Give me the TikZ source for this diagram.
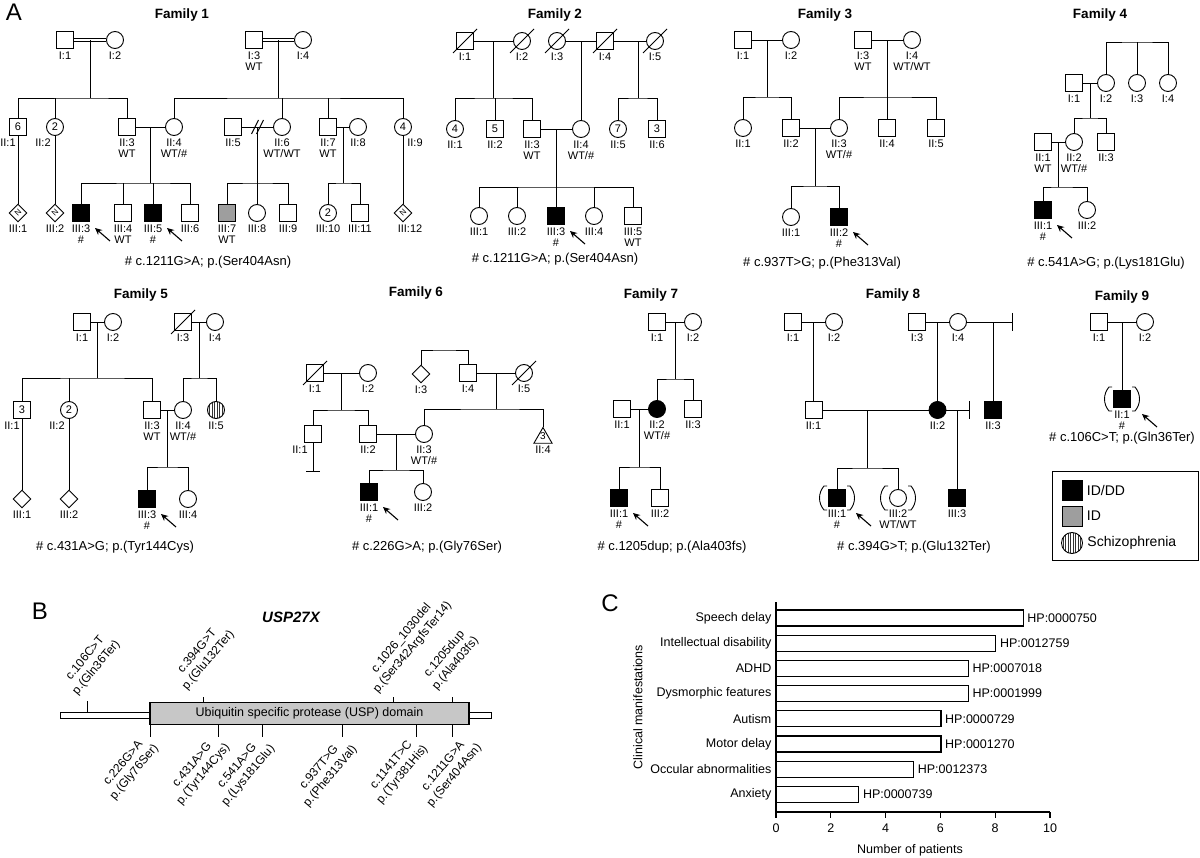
\documentclass[tikz,border=0pt]{standalone}
\usepackage{fontspec}
\setmainfont{Liberation Sans}
\usetikzlibrary{arrows.meta, positioning, calc, shapes.geometric}

\newcommand{\fs}[2]{\fontsize{#1}{#2}\selectfont}
% pedigree helpers
\newcommand{\deceased}[1]{\draw[ped] ([shift={(-12,12)}]#1.center) -- ([shift={(12,-12)}]#1.center);}
\newcommand{\adopted}[1]{%
  \draw[ped] ([shift={(-10,-12)}]#1.center) -- ([shift={(-13,-12)}]#1.center) .. controls ([shift={(-19,-5)}]#1.center) and ([shift={(-19,5)}]#1.center) .. ([shift={(-13,12)}]#1.center) -- ([shift={(-10,12)}]#1.center);
  \draw[ped] ([shift={(10,-12)}]#1.center) -- ([shift={(13,-12)}]#1.center) .. controls ([shift={(19,-5)}]#1.center) and ([shift={(19,5)}]#1.center) .. ([shift={(13,12)}]#1.center) -- ([shift={(10,12)}]#1.center);}
\newcommand{\proband}[2][0]{\draw[pb] ([shift={(#1+29,28)}]#2.center) -- ([shift={(#1+14,15)}]#2.center);}

\tikzset{
  ped/.style={line width=0.9pt},
  ind/.style={draw, ped, inner sep=0pt, font=\fs{11}{12}},
  male/.style={ind, rectangle, minimum size=17pt},
  female/.style={ind, circle, minimum size=17pt},
  unkn/.style={ind, diamond, minimum size=18pt, font=\fs{8}{9}},
  aff/.style={fill=black},
  idonly/.style={fill=black!38},
  schizo/.style={path picture={\foreach \k in {-9,-6.5,...,9}{\draw[line width=0.9pt, black!80] ([xshift=\k]path picture bounding box.north) -- ([xshift=\k]path picture bounding box.south);}}},
  lab/.style={font=\fs{11}{11.5}, inner sep=0pt, align=center, label distance=2.5pt},
  famnote/.style={font=\fs{13}{15}},
  fam/.style={font=\fs{13.5}{15}\bfseries},
  pb/.style={line width=1.1pt, -{Stealth[length=7pt, width=6.5pt]}},
  mut/.style={font=\fs{12}{14.5}, align=center, inner sep=0pt, rotate=50},
  axlab/.style={font=\fs{12.5}{14}, inner sep=1.5pt},
}

\begin{document}
\begin{tikzpicture}[x=1pt, y=-1pt]
\fill[white] (0,0) rectangle (1200,858);
\useasboundingbox (0,0) rectangle (1200,858);

\node[font=\fs{24}{26}] (pA) at (14,12) {A};
\node[font=\fs{24}{26}] (pB) at (40,611) {B};
\node[font=\fs{24}{26}] (pC) at (610,603) {C};

% ---------------- Family 1
\node[fam] (t1) at (182,15) {Family 1};
\node[male, label={[lab]below:{I:1}}] (f1i1) at (65,40) {};
\node[female, label={[lab]below:{I:2}}] (f1i2) at (115,40) {};
\node[male, label={[lab]below:{I:3\\WT}}] (f1i3) at (254,40) {};
\node[female, label={[lab]below:{I:4}}] (f1i4) at (303,40) {};
\node[male, label={[lab,xshift=-10pt]below:{II:1}}] (f1ii1) at (18,127) {6};
\node[female, label={[lab,xshift=-12pt]below:{II:2}}] (f1ii2) at (55,127) {2};
\node[male, label={[lab]below:{II:3\\WT}}] (f1ii3) at (127,127) {};
\node[female, label={[lab]below:{II:4\\WT/\#}}] (f1ii4) at (174,127) {};
\node[male, label={[lab]below:{II:5}}] (f1ii5) at (233,127) {};
\node[female, label={[lab]below:{II:6\\WT/WT}}] (f1ii6) at (282,127) {};
\node[male, label={[lab]below:{II:7\\WT}}] (f1ii7) at (328,127) {};
\node[female, label={[lab]below:{II:8}}] (f1ii8) at (358,127) {};
\node[female, label={[lab,xshift=12pt]below:{II:9}}] (f1ii9) at (403,127) {4};
\node[unkn, label={[lab]below:{III:1}}] (f1iii1) at (18,213) {\rotatebox{45}{N}};
\node[unkn, label={[lab]below:{III:2}}] (f1iii2) at (55,213) {\rotatebox{45}{N}};
\node[male, aff, label={[lab]below:{III:3\\\#}}] (f1iii3) at (81,213) {};
\node[male, label={[lab]below:{III:4\\WT}}] (f1iii4) at (123,213) {};
\node[male, aff, label={[lab]below:{III:5\\\#}}] (f1iii5) at (153,213) {};
\node[male, label={[lab]below:{III:6}}] (f1iii6) at (190,213) {};
\node[male, idonly, label={[lab]below:{III:7\\WT}}] (f1iii7) at (227,213) {};
\node[female, label={[lab]below:{III:8}}] (f1iii8) at (257,213) {};
\node[male, label={[lab]below:{III:9}}] (f1iii9) at (288,213) {};
\node[female, label={[lab]below:{III:10}}] (f1iii10) at (328,213) {2};
\node[male, label={[lab]below:{III:11}}] (f1iii11) at (360,213) {};
\node[unkn, label={[lab,xshift=7pt]below:{III:12}}] (f1iii12) at (403,213) {\rotatebox{45}{N}};

\draw[ped, double, double distance=2.6pt] (f1i1) -- (f1i2);
\draw[ped, double, double distance=2.6pt] (f1i3) -- (f1i4);
\coordinate (f1s1) at ($(f1i1)!.5!(f1i2)+(0,58)$);
\coordinate (f1s2) at ($(f1i3)!.5!(f1i4)+(0,58)$);
\draw[ped] (f1s1) -- (f1s1 |- f1i1);
\draw[ped] (f1s2) -- (f1s2 |- f1i3);
\draw[ped] (f1ii1) |- (f1s1) -| (f1ii3);
\draw[ped] (f1ii2) -- (f1ii2 |- f1s1);
\draw[ped] (f1ii4) |- (f1s2) -| (f1ii9);
\draw[ped] (f1ii6) -- (f1ii6 |- f1s2);
\draw[ped] (f1ii7) -- (f1ii7 |- f1s2);
\draw[ped] (f1ii3) -- (f1ii4);
\draw[ped] (f1ii5) -- (f1ii6);
\draw[ped] (f1ii7) -- (f1ii8);
\coordinate (f1dv) at ($(f1ii5)!.5!(f1ii6)$);
\draw[ped] ([shift={(-6,7)}]f1dv) -- ([shift={(1,-7)}]f1dv);
\draw[ped] ([shift={(-1,7)}]f1dv) -- ([shift={(6,-7)}]f1dv);
\coordinate (f1s3) at ($(f1ii3)!.5!(f1ii4)+(0,56)$);
\coordinate (f1s4) at ($(f1ii5)!.5!(f1ii6)+(0,56)$);
\coordinate (f1s5) at ($(f1ii7)!.5!(f1ii8)+(0,56)$);
\draw[ped] (f1s3) -- (f1s3 |- f1ii3);
\draw[ped] (f1s4) -- (f1s4 |- f1ii5);
\draw[ped] (f1s5) -- (f1s5 |- f1ii7);
\draw[ped] (f1iii3) |- (f1s3) -| (f1iii6);
\draw[ped] (f1iii4) -- (f1iii4 |- f1s3);
\draw[ped] (f1iii5) -- (f1iii5 |- f1s3);
\draw[ped] (f1iii7) |- (f1s4) -| (f1iii9);
\draw[ped] (f1iii8) -- (f1iii8 |- f1s4);
\draw[ped] (f1iii10) |- (f1s5) -| (f1iii11);
\draw[ped] (f1ii1) -- (f1iii1);
\draw[ped] (f1ii2) -- (f1iii2);
\draw[ped] (f1ii9) -- (f1iii12);
\proband{f1iii3}
\proband{f1iii5}
\node[famnote] (c1) at (208,262) {\# c.1211G>A; p.(Ser404Asn)};

% ---------------- Family 2
\node[fam] (t2) at (555,15) {Family 2};
\node[male, label={[lab]below:{I:1}}] (f2i1) at (465,41) {};
\node[female, label={[lab]below:{I:2}}] (f2i2) at (522,41) {};
\node[female, label={[lab]below:{I:3}}] (f2i3) at (557,41) {};
\node[male, label={[lab]below:{I:4}}] (f2i4) at (605,41) {};
\node[female, label={[lab]below:{I:5}}] (f2i5) at (655,41) {};
\node[female, label={[lab]below:{II:1}}] (f2ii1) at (455,129) {4};
\node[male, label={[lab]below:{II:2}}] (f2ii2) at (495,129) {5};
\node[male, label={[lab]below:{II:3\\WT}}] (f2ii3) at (532,129) {};
\node[female, label={[lab]below:{II:4\\WT/\#}}] (f2ii4) at (581,129) {};
\node[female, label={[lab]below:{II:5}}] (f2ii5) at (618,129) {7};
\node[male, label={[lab]below:{II:6}}] (f2ii6) at (657,129) {3};
\node[female, label={[lab]below:{III:1}}] (f2iii1) at (479,216) {};
\node[female, label={[lab]below:{III:2}}] (f2iii2) at (517,216) {};
\node[male, aff, label={[lab]below:{III:3\\\#}}] (f2iii3) at (556,216) {};
\node[female, label={[lab]below:{III:4}}] (f2iii4) at (594,216) {};
\node[male, label={[lab]below:{III:5\\WT}}] (f2iii5) at (633,216) {};

\draw[ped] (f2i1) -- (f2i2);
\draw[ped] (f2i3) -- (f2i4) -- (f2i5);
\coordinate (f2s1) at ($(f2i1)!.5!(f2i2)+(0,57)$);
\coordinate (f2s3) at (638,98);
\draw[ped] (f2s1) -- (f2s1 |- f2i1);
\draw[ped] (f2s3) -- (f2s3 |- f2i4);
\draw[ped] (f2ii4) -- (f2ii4 |- f2i3);
\draw[ped] (f2ii1) |- (f2s1) -| (f2ii3);
\draw[ped] (f2ii2) -- (f2ii2 |- f2s1);
\draw[ped] (f2ii5) |- (f2s3) -| (f2ii6);
\draw[ped] (f2ii3) -- (f2ii4);
\coordinate (f2s2) at ($(f2ii3)!.5!(f2ii4)+(0,58)$);
\draw[ped] (f2s2) -- (f2s2 |- f2ii3);
\draw[ped] (f2iii1) |- (f2s2) -| (f2iii5);
\draw[ped] (f2iii2) -- (f2iii2 |- f2s2);
\draw[ped] (f2iii3) -- (f2iii3 |- f2s2);
\draw[ped] (f2iii4) -- (f2iii4 |- f2s2);
\deceased{f2i1}
\deceased{f2i2}
\deceased{f2i3}
\deceased{f2i4}
\deceased{f2i5}
\proband{f2iii3}
\node[famnote] (c2) at (555,259) {\# c.1211G>A; p.(Ser404Asn)};

% ---------------- Family 3
\node[fam] (t3) at (825,15) {Family 3};
\node[male, label={[lab]below:{I:1}}] (f3i1) at (743,40) {};
\node[female, label={[lab]below:{I:2}}] (f3i2) at (791,40) {};
\node[male, label={[lab]below:{I:3\\WT}}] (f3i3) at (863,40) {};
\node[female, label={[lab]below:{I:4\\WT/WT}}] (f3i4) at (912,40) {};
\node[female, label={[lab]below:{II:1}}] (f3ii1) at (743,128) {};
\node[male, label={[lab]below:{II:2}}] (f3ii2) at (791,128) {};
\node[female, label={[lab]below:{II:3\\WT/\#}}] (f3ii3) at (839,128) {};
\node[male, label={[lab]below:{II:4}}] (f3ii4) at (887,128) {};
\node[male, label={[lab]below:{II:5}}] (f3ii5) at (936,128) {};
\node[female, label={[lab]below:{III:1}}] (f3iii1) at (791,217) {};
\node[male, aff, label={[lab]below:{III:2\\\#}}] (f3iii2) at (839,217) {};

\draw[ped] (f3i1) -- (f3i2);
\draw[ped] (f3i3) -- (f3i4);
\draw[ped] (f3ii2) -- (f3ii3);
\coordinate (f3s1) at ($(f3i1)!.5!(f3i2)+(0,57)$);
\coordinate (f3s2) at ($(f3i3)!.5!(f3i4)+(0,57)$);
\coordinate (f3s3) at ($(f3ii2)!.5!(f3ii3)+(0,58)$);
\draw[ped] (f3s1) -- (f3s1 |- f3i1);
\draw[ped] (f3s2) -- (f3s2 |- f3i3);
\draw[ped] (f3s3) -- (f3s3 |- f3ii2);
\draw[ped] (f3ii1) |- (f3s1) -| (f3ii2);
\draw[ped] (f3ii3) |- (f3s2) -| (f3ii5);
\draw[ped] (f3ii4) -- (f3ii4 |- f3s2);
\draw[ped] (f3iii1) |- (f3s3) -| (f3iii2);
\proband{f3iii2}
\node[famnote] (c3) at (822,263) {\# c.937T>G; p.(Phe313Val)};

% ---------------- Family 4
\node[fam] (t4) at (1100,15) {Family 4};
\node[male, label={[lab]below:{I:1}}] (f4i1) at (1074,83) {};
\node[female, label={[lab]below:{I:2}}] (f4i2) at (1106,83) {};
\node[female, label={[lab]below:{I:3}}] (f4i3) at (1137,83) {};
\node[female, label={[lab]below:{I:4}}] (f4i4) at (1168,83) {};
\node[male, label={[lab]below:{II:1\\WT}}] (f4ii1) at (1043,142) {};
\node[female, label={[lab]below:{II:2\\WT/\#}}] (f4ii2) at (1074,142) {};
\node[male, label={[lab]below:{II:3}}] (f4ii3) at (1106,142) {};
\node[male, aff, label={[lab]below:{III:1\\\#}}] (f4iii1) at (1043,210) {};
\node[female, label={[lab]below:{III:2}}] (f4iii2) at (1087,210) {};

\coordinate (f4s0) at (1137,42);
\draw[ped] (f4i2) |- (f4s0) -| (f4i4);
\draw[ped] (f4i3) -- (f4s0);
\draw[ped] (f4i1) -- (f4i2);
\draw[ped] (f4ii1) -- (f4ii2);
\coordinate (f4s1) at ($(f4i1)!.5!(f4i2)+(0,35)$);
\coordinate (f4s2) at ($(f4ii1)!.5!(f4ii2)+(0,45)$);
\draw[ped] (f4s1) -- (f4s1 |- f4i1);
\draw[ped] (f4s2) -- (f4s2 |- f4ii1);
\draw[ped] (f4ii2) |- (f4s1) -| (f4ii3);
\draw[ped] (f4iii1) |- (f4s2) -| (f4iii2);
\proband{f4iii1}
\node[famnote] (c4) at (1106,263) {\# c.541A>G; p.(Lys181Glu)};

% ---------------- Family 5
\node[fam] (t5) at (141,295) {Family 5};
\node[male, label={[lab]below:{I:1}}] (f5i1) at (82,322) {};
\node[female, label={[lab]below:{I:2}}] (f5i2) at (113,322) {};
\node[male, label={[lab]below:{I:3}}] (f5i3) at (183,322) {};
\node[female, label={[lab]below:{I:4}}] (f5i4) at (215,322) {};
\node[male, label={[lab,xshift=-10pt]below:{II:1}}] (f5ii1) at (22,410) {3};
\node[female, label={[lab,xshift=-12pt]below:{II:2}}] (f5ii2) at (69,410) {2};
\node[male, label={[lab]below:{II:3\\WT}}] (f5ii3) at (152,410) {};
\node[female, label={[lab]below:{II:4\\WT/\#}}] (f5ii4) at (183,410) {};
\node[female, schizo, label={[lab]below:{II:5}}] (f5ii5) at (216,410) {};
\node[unkn, label={[lab]below:{III:1}}] (f5iii1) at (22,499) {};
\node[unkn, label={[lab]below:{III:2}}] (f5iii2) at (69,499) {};
\node[male, aff, label={[lab]below:{III:3\\\#}}] (f5iii3) at (147,499) {};
\node[female, label={[lab]below:{III:4}}] (f5iii4) at (188,499) {};

\draw[ped] (f5i1) -- (f5i2);
\draw[ped] (f5i3) -- (f5i4);
\draw[ped] (f5ii3) -- (f5ii4);
\coordinate (f5s1) at ($(f5i1)!.5!(f5i2)+(0,56)$);
\coordinate (f5s2) at ($(f5i3)!.5!(f5i4)+(0,56)$);
\coordinate (f5s3) at ($(f5ii3)!.5!(f5ii4)+(0,57)$);
\draw[ped] (f5s1) -- (f5s1 |- f5i1);
\draw[ped] (f5s2) -- (f5s2 |- f5i3);
\draw[ped] (f5s3) -- (f5s3 |- f5ii3);
\draw[ped] (f5ii1) |- (f5s1) -| (f5ii3);
\draw[ped] (f5ii2) -- (f5ii2 |- f5s1);
\draw[ped] (f5ii4) |- (f5s2) -| (f5ii5);
\draw[ped] (f5iii3) |- (f5s3) -| (f5iii4);
\draw[ped] (f5ii1) -- (f5iii1);
\draw[ped] (f5ii2) -- (f5iii2);
\deceased{f5i3}
\proband{f5iii3}
\node[famnote] (c5) at (115,547) {\# c.431A>G; p.(Tyr144Cys)};

% ---------------- Family 6
\node[fam] (t6) at (416,293) {Family 6};
\node[male, label={[lab]below:{I:1}}] (f6i1) at (315,373) {};
\node[female, label={[lab]below:{I:2}}] (f6i2) at (368,373) {};
\node[unkn, label={[lab]below:{I:3}}] (f6i3) at (421,374) {};
\node[male, label={[lab]below:{I:4}}] (f6i4) at (468,373) {};
\node[female, label={[lab]below:{I:5}}] (f6i5) at (524,373) {};
\node[male, label={[lab,xshift=-13pt]below:{II:1}}] (f6ii1) at (313,434) {};
\node[male, label={[lab]below:{II:2}}] (f6ii2) at (368,434) {};
\node[female, label={[lab]below:{II:3\\WT/\#}}] (f6ii3) at (424,434) {};
\node[ind, regular polygon, regular polygon sides=3, minimum size=21pt,
      label={[font=\fs{10}{11}, inner sep=0pt, yshift=1.5pt]center:3},
      label={[lab]below:{II:4}}] (f6ii4) at (543,438) {};
\node[male, aff, label={[lab]below:{III:1\\\#}}] (f6iii1) at (369,492) {};
\node[female, label={[lab]below:{III:2}}] (f6iii2) at (423,492) {};

\coordinate (f6s0) at (444,350);
\draw[ped] (f6i3) |- (f6s0) -| (f6i4);
\draw[ped] (f6i1) -- (f6i2);
\draw[ped] (f6i4) -- (f6i5);
\draw[ped] (f6ii2) -- (f6ii3);
\coordinate (f6s1) at ($(f6i1)!.5!(f6i2)+(0,37)$);
\coordinate (f6s2) at ($(f6i4)!.5!(f6i5)+(0,36)$);
\coordinate (f6s3) at ($(f6ii2)!.5!(f6ii3)+(0,36)$);
\draw[ped] (f6s1) -- (f6s1 |- f6i1);
\draw[ped] (f6s2) -- (f6s2 |- f6i4);
\draw[ped] (f6s3) -- (f6s3 |- f6ii2);
\draw[ped] (f6ii1) |- (f6s1) -| (f6ii2);
\draw[ped] (f6ii3) |- (f6s2) -| (f6ii4);
\draw[ped] (f6iii1) |- (f6s3) -| (f6iii2);
\coordinate (f6nc) at (313,471);
\draw[ped] (f6ii1) -- (f6nc);
\draw[ped] ([xshift=-7pt]f6nc) -- ([xshift=7pt]f6nc);
\deceased{f6i1}
\deceased{f6i5}
\proband{f6iii1}
\node[famnote] (c6) at (427,547) {\# c.226G>A; p.(Gly76Ser)};

% ---------------- Family 7
\node[fam] (t7) at (651,295) {Family 7};
\node[male, label={[lab]below:{I:1}}] (f7i1) at (657,322) {};
\node[female, label={[lab]below:{I:2}}] (f7i2) at (693,322) {};
\node[male, label={[lab]below:{II:1}}] (f7ii1) at (622,409) {};
\node[female, aff, label={[lab]below:{II:2\\WT/\#}}] (f7ii2) at (657,409) {};
\node[male, label={[lab]below:{II:3}}] (f7ii3) at (693,409) {};
\node[male, aff, label={[lab]below:{III:1\\\#}}] (f7iii1) at (619,498) {};
\node[male, label={[lab]below:{III:2}}] (f7iii2) at (660,498) {};

\draw[ped] (f7i1) -- (f7i2);
\draw[ped] (f7ii1) -- (f7ii2);
\coordinate (f7s1) at ($(f7i1)!.5!(f7i2)+(0,57)$);
\coordinate (f7s2) at ($(f7ii1)!.5!(f7ii2)+(0,58)$);
\draw[ped] (f7s1) -- (f7s1 |- f7i1);
\draw[ped] (f7s2) -- (f7s2 |- f7ii1);
\draw[ped] (f7ii2) |- (f7s1) -| (f7ii3);
\draw[ped] (f7iii1) |- (f7s2) -| (f7iii2);
\proband{f7iii1}
\node[famnote] (c7) at (672,547) {\# c.1205dup; p.(Ala403fs)};

% ---------------- Family 8
\node[fam] (t8) at (893,295) {Family 8};
\node[male, label={[lab]below:{I:1}}] (f8i1) at (793,322) {};
\node[female, label={[lab]below:{I:2}}] (f8i2) at (834,322) {};
\node[male, label={[lab]below:{I:3}}] (f8i3) at (917,322) {};
\node[female, label={[lab]below:{I:4}}] (f8i4) at (958,322) {};
\node[male, label={[lab]below:{II:1}}] (f8ii1) at (813.5,410) {};
\node[female, aff, label={[lab]below:{II:2}}] (f8ii2) at (937.5,410) {};
\node[male, aff, label={[lab]below:{II:3}}] (f8ii3) at (993,410) {};
\node[male, aff, label={[lab]below:{III:1\\\#}}] (f8iii1) at (837,498) {};
\node[female, label={[lab]below:{III:2\\WT/WT}}] (f8iii2) at (898,498) {};
\node[male, aff, label={[lab]below:{III:3}}] (f8iii3) at (957,498) {};

\draw[ped] (f8i1) -- (f8i2);
\draw[ped] (f8i3) -- (f8i4);
\coordinate (f8e1) at (1012,322);
\draw[ped] (f8i4) -- (f8e1);
\draw[ped] ([yshift=9pt]f8e1) -- ([yshift=-9pt]f8e1);
\draw[ped] (f8ii1) -- (f8ii1 |- f8i1);
\draw[ped] (f8ii2) -- (f8ii2 |- f8i3);
\draw[ped] (f8ii3) -- (f8ii3 |- f8e1);
\draw[ped] (f8ii1) -- (f8ii2);
\coordinate (f8e2) at (969,410);
\draw[ped] (f8ii2) -- (f8e2);
\draw[ped] ([yshift=9pt]f8e2) -- ([yshift=-9pt]f8e2);
\draw[ped] (f8iii3) -- (f8iii3 |- f8ii2);
\coordinate (f8s1) at (867,468);
\draw[ped] (f8s1) -- (f8s1 |- f8ii1);
\draw[ped] (f8iii1) |- (f8s1) -| (f8iii2);
\adopted{f8iii1}
\adopted{f8iii2}
\proband[5]{f8iii1}
\node[famnote] (c8) at (914,547) {\# c.394G>T; p.(Glu132Ter)};

% ---------------- Family 9
\node[fam] (t9) at (1122,297) {Family 9};
\node[male, label={[lab]below:{I:1}}] (f9i1) at (1099,322) {};
\node[female, label={[lab]below:{I:2}}] (f9i2) at (1145,322) {};
\node[male, aff, label={[lab]below:{II:1\\\#}}] (f9ii1) at (1122,399) {};
\draw[ped] (f9i1) -- (f9i2);
\draw[ped] (f9ii1) -- (f9ii1 |- f9i1);
\adopted{f9ii1}
\proband[6]{f9ii1}
\node[famnote] (c9) at (1122,438) {\# c.106C>T; p.(Gln36Ter)};

% legend
\draw[line width=1pt] (1052,472) rectangle (1198,560);
\node[male, aff, minimum size=20pt] (lg1) at (1072,490) {};
\node[female, schizo, minimum size=21pt] (lg3) at (1072,543) {};
\node[male, idonly, minimum size=20pt] (lg2) at (1072,516) {};
\node[right=1pt of lg1, font=\fs{14}{16}] (lgt1) {ID/DD};
\node[right=1pt of lg2, font=\fs{14}{16}] (lgt2) {ID};
\node[right=1pt of lg3, font=\fs{14}{16}] (lgt3) {Schizophrenia};

% ---------------- B: protein
\node[font=\fs{15}{17}\bfseries\itshape] (gene) at (291,617) {USP27X};
\node[draw, line width=1pt, fill=white, minimum width=431pt, minimum height=6pt, inner sep=0pt] (prot) at (275.5,715.5) {};
\node[draw, line width=1.2pt, fill=black!22, minimum width=319pt, minimum height=21.5pt, inner sep=0pt, font=\fs{12.5}{14}] (usp) at (309.5,713.5) {Ubiquitin specific protease (USP) domain};
\draw[ped] (87,701) -- (87,712.5);
\foreach \x in {203,393,452} \draw[ped] (\x,697) -- (\x,703);
\foreach \x in {150,218,262,342,416,452} \draw[ped] (\x,724) -- (\x,737);
\node[mut] (m1) at (91,663) {c.106C>T\\p.(Gln36Ter)};
\node[mut] (m2) at (203,656) {c.394G>T\\p.(Glu132Ter)};
\node[mut] (m3) at (407,643) {c.1026\_1030del\\p.(Ser342ArgfsTer14)};
\node[mut] (m4) at (450,659) {c.1205dup\\p.(Ala403fs)};
\node[mut] (m5) at (129,768) {c.226G>A\\p.(Gly76Ser)};
\node[mut] (m6) at (198,770) {c.431A>G\\p.(Tyr144Cys)};
\node[mut] (m7) at (243,771) {c.541A>G\\p.(Lys181Glu)};
\node[mut] (m8) at (325,772) {c.937T>G\\p.(Phe313Val)};
\node[mut] (m9) at (397,770) {c.1141T>C\\p.(Tyr381His)};
\node[mut] (m10) at (449,771) {c.1211G>A\\p.(Ser404Asn)};

% ---------------- C: bar chart
\foreach \name/\v/\hp [count=\i from 0] in {Speech delay/9/0000750, Intellectual disability/8/0012759, ADHD/7/0007018, Dysmorphic features/7/0001999, Autism/6/0000729, Motor delay/6/0001270, Occular abnormalities/5/0012373, Anxiety/3/0000739} {
  \node[draw, line width=1.1pt, fill=white, anchor=west, inner sep=0pt, minimum height=16pt, minimum width={\v*27.4pt}] (bar\i) at (776,{618+25.2*\i}) {};
  \node[axlab, anchor=east] (cat\i) at (773,{618+25.2*\i}) {\name};
  \node[axlab, anchor=west, xshift=2pt] (hp\i) at (bar\i.east) {HP:\hp};
}
\draw[line width=1.1pt] (776,602) -- (776,812) -- (1050,812);
\foreach \k in {0,2,...,10} {
  \draw[line width=1.1pt] ({776+27.4*\k},812) -- ({776+27.4*\k},818);
  \node[axlab] (xt\k) at ({776+27.4*\k},828) {\k};
}
\node[axlab] (xlab) at (910,850) {Number of patients};
\node[axlab, rotate=90] (ylab) at (638,707) {Clinical manifestations};
\end{tikzpicture}
\end{document}
